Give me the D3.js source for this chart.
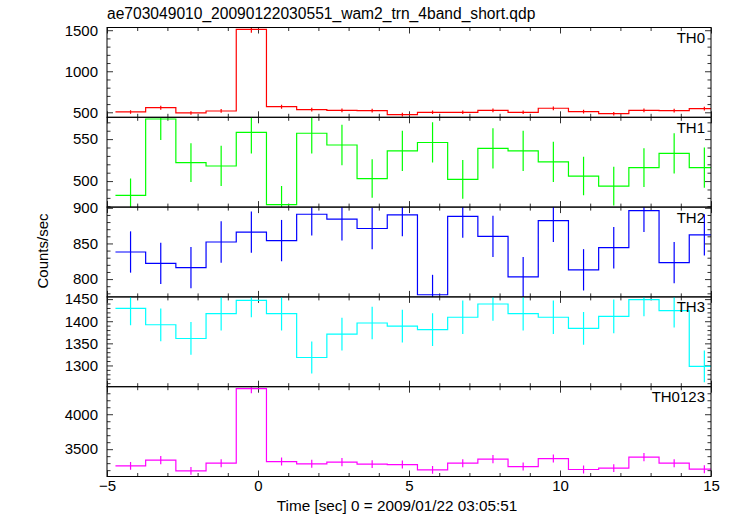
<!DOCTYPE html>
<html><head><meta charset="utf-8">
<script src="https://cdn.jsdelivr.net/npm/d3@7"></script>
<style>
body{margin:0;background:#fff}
svg{display:block}
text{font-family:"Liberation Sans",Arial,Helvetica,sans-serif;fill:#000}
</style>
</head><body>
<svg id="c" width="733" height="516"></svg>
<script>
// ---- data ----
const title = "ae703049010_20090122030551_wam2_trn_4band_short.qdp";
const xLabel = "Time [sec] 0 = 2009/01/22 03:05:51";
const yLabel = "Counts/sec";
const binWidth = 1;
const times = [-4.22,-3.22,-2.22,-1.22,-0.22,0.78,1.78,2.78,3.78,4.78,5.78,6.78,7.78,8.78,9.78,10.78,11.78,12.78,13.78,14.78];
const th0 = [504,556,492,516,1509,568,532,524,520,471,500,500,524,500,549,508,483,524,520,544];
const th0Err = [22,24,22,23,39,24,23,23,23,22,22,22,23,22,23,23,22,23,23,23];
const th1 = [483,574,522,518,558,472,557,543,503,536,546,502,539,536,523,506,494,516,533,516];
const th1Err = [20,25,23,24,25,22,24,24,23,24,24,23,24,24,24,23,23,23,24,24];
const th2 = [838,822,816,852,866,854,891,884,871,890,778,888,860,803,882,813,844,896,823,862];
const th2Err = [29,29,29,29,29,29,30,30,29,30,28,30,29,28,30,29,29,30,29,29];
const th3 = [1429,1392,1361,1417,1447,1417,1318,1371,1396,1389,1381,1409,1439,1417,1409,1384,1411,1449,1424,1298];
const th3Err = [38,37,37,38,38,38,36,37,37,37,37,38,38,38,38,37,38,38,38,36];
const th0123 = [3261,3343,3190,3300,4366,3323,3290,3314,3286,3280,3204,3300,3357,3251,3366,3209,3229,3386,3300,3214];
const th0123Err = [57,58,56,57,66,58,57,58,57,57,57,57,58,57,58,57,57,58,57,57];
const panelNames = ["TH0","TH1","TH2","TH3","TH0123"];
const xTicks = [-5,0,5,10,15];
const yTicks = [[500,1000,1500],[500,550],[800,850,900],[1300,1350,1400,1450],[3500,4000]];

// ---- layout ----
const W = 733, H = 516;
const left = 107, right = 711, top0 = 27.5, ph = 89.8;
const panels = [
  {name:panelNames[0], v:th0, e:th0Err, color:"#ff0000", domain:[439,1533], major:yTicks[0], minor:100},
  {name:panelNames[1], v:th1, e:th1Err, color:"#00ff00", domain:[469,576], major:yTicks[1], minor:10},
  {name:panelNames[2], v:th2, e:th2Err, color:"#0000ff", domain:[775,901], major:yTicks[2], minor:10},
  {name:panelNames[3], v:th3, e:th3Err, color:"#00ffff", domain:[1252,1455], major:yTicks[3], minor:10},
  {name:panelNames[4], v:th0123, e:th0123Err, color:"#ff00ff", domain:[3109,4394], major:yTicks[4], minor:100}
];

const svg = d3.select("#c");
const x = d3.scaleLinear().domain([-5,15]).range([left,right]);
const xMinor = d3.range(-5,15.01,1).filter(d => !xTicks.includes(d));
const tickCol = "#333";

svg.append("text").attr("x", left).attr("y", 19).attr("font-size", 15.6).text(title);

panels.forEach((p, i) => {
  const t = top0 + i*ph, b = t + ph;
  const y = d3.scaleLinear().domain(p.domain).range([b, t]);
  const g = svg.append("g");
  const cid = "clip"+i;
  svg.append("clipPath").attr("id", cid).append("rect")
    .attr("x", left).attr("y", t).attr("width", right-left).attr("height", ph);

  const minorVals = d3.range(Math.ceil(p.domain[0]/p.minor)*p.minor, p.domain[1], p.minor)
    .filter(d => !p.major.includes(d));

  g.append("g").attr("transform", `translate(${left},0)`)
    .call(d3.axisLeft(y).tickValues(p.major).tickSize(-6).tickSizeOuter(0).tickPadding(9).tickFormat(d3.format("d")));
  g.append("g").attr("transform", `translate(${left},0)`)
    .call(d3.axisLeft(y).tickValues(minorVals).tickSize(-3.5).tickSizeOuter(0).tickFormat(""));
  g.append("g").attr("transform", `translate(${right},0)`)
    .call(d3.axisRight(y).tickValues(p.major).tickSize(-6).tickSizeOuter(0).tickFormat(""));
  g.append("g").attr("transform", `translate(${right},0)`)
    .call(d3.axisRight(y).tickValues(minorVals).tickSize(-3.5).tickSizeOuter(0).tickFormat(""));
  g.append("g").attr("transform", `translate(0,${t})`)
    .call(d3.axisTop(x).tickValues(xTicks).tickSize(-6).tickSizeOuter(0).tickFormat(""));
  g.append("g").attr("transform", `translate(0,${t})`)
    .call(d3.axisTop(x).tickValues(xMinor).tickSize(-3.5).tickSizeOuter(0).tickFormat(""));
  g.append("g").attr("transform", `translate(0,${b})`)
    .call(d3.axisBottom(x).tickValues(xTicks).tickSize(-6).tickSizeOuter(0).tickPadding(3.5)
      .tickFormat(i === panels.length-1 ? (d => d < 0 ? "\u2212" + Math.abs(d) : String(d)) : ""));
  g.append("g").attr("transform", `translate(0,${b})`)
    .call(d3.axisBottom(x).tickValues(xMinor).tickSize(-3.5).tickSizeOuter(0).tickFormat(""));
  g.selectAll(".domain").remove();
  g.selectAll(".tick line").attr("stroke", tickCol).attr("stroke-width", 1);
  g.selectAll(".tick text").attr("font-size", 15).attr("font-family", '"Liberation Sans",Arial,sans-serif').attr("fill", "#000");

  const pts = [];
  p.v.forEach((v, k) => { pts.push([times[k]-binWidth/2, v]); pts.push([times[k]+binWidth/2, v]); });
  const line = d3.line().x(d => x(d[0])).y(d => y(d[1]));
  const dg = svg.append("g").attr("clip-path", `url(#${cid})`);
  dg.append("path").attr("d", line(pts)).attr("fill", "none").attr("stroke", p.color).attr("stroke-width", 1.2);
  dg.selectAll("line.err").data(p.v).enter().append("line")
    .attr("x1", (v,k) => x(times[k])).attr("x2", (v,k) => x(times[k]))
    .attr("y1", (v,k) => y(v - p.e[k])).attr("y2", (v,k) => y(v + p.e[k]))
    .attr("stroke", p.color).attr("stroke-width", 1.2);

  svg.append("rect").attr("x", left).attr("y", t).attr("width", right-left).attr("height", ph)
    .attr("fill", "none").attr("stroke", "#000").attr("stroke-width", 1);

  svg.append("text").attr("x", 705).attr("y", t + 15.5).attr("text-anchor", "end")
    .attr("font-size", 15).text(p.name);
});

svg.append("text").attr("x", 397).attr("y", 511).attr("text-anchor", "middle")
  .attr("font-size", 15.3).text(xLabel);
svg.append("text").attr("transform", `translate(48,251) rotate(-90)`).attr("text-anchor", "middle")
  .attr("font-size", 15).text(yLabel);
</script>
</body></html>
